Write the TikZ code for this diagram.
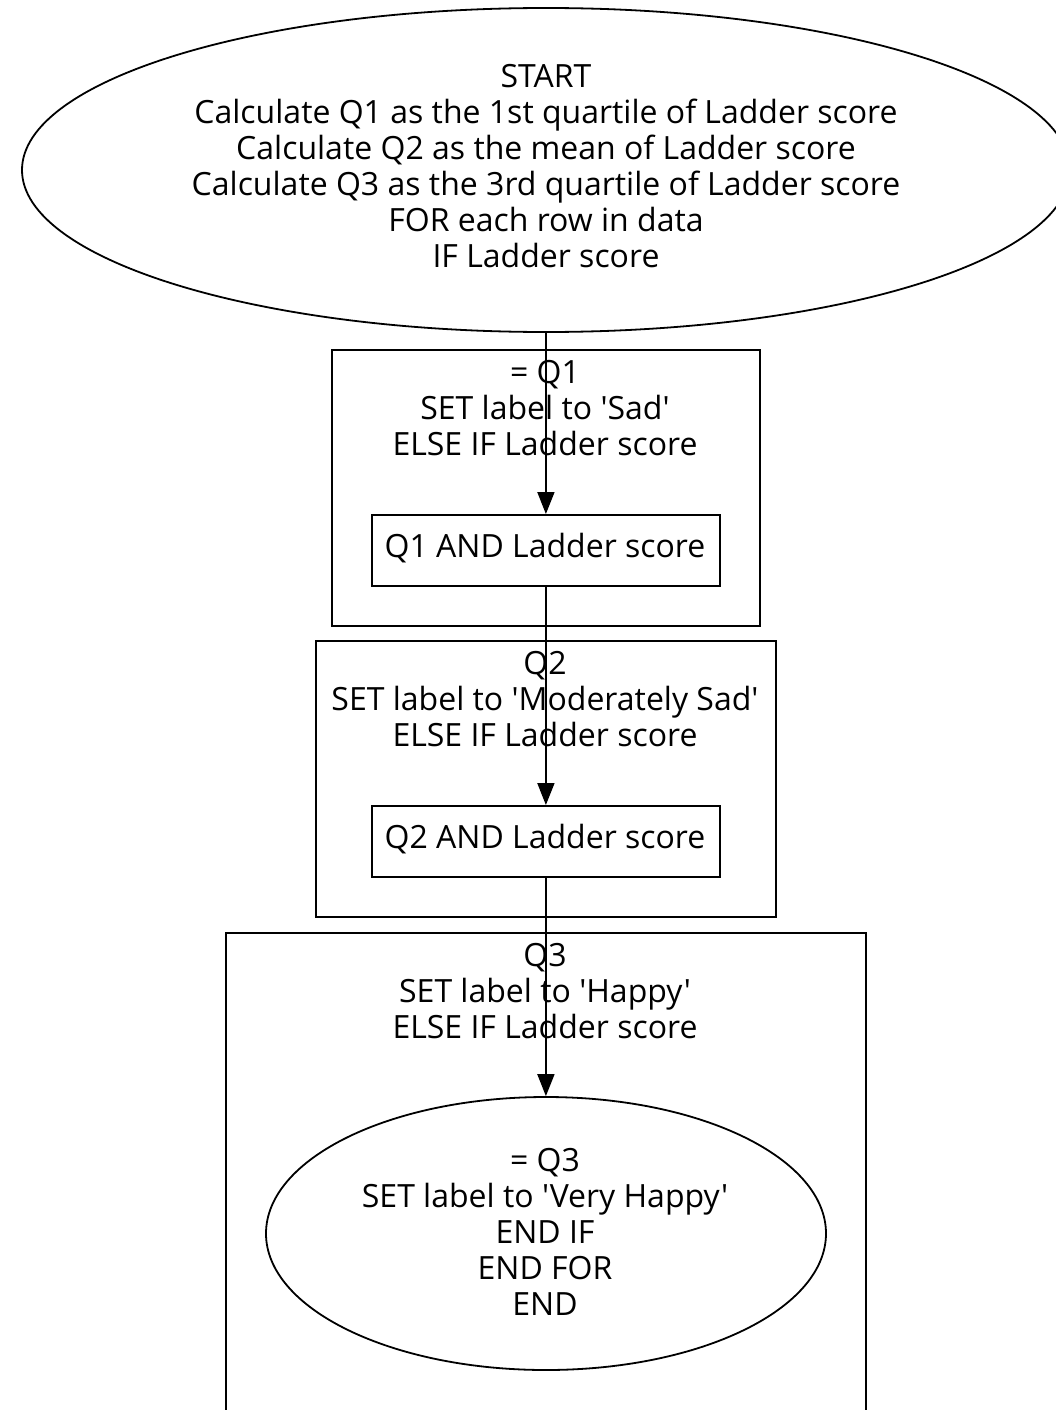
\documentclass[tikz,border=0pt]{standalone}
\usepackage{fontspec}
\setmainfont{Open Sans}[Ligatures=TeXOff]
\usetikzlibrary{shapes.geometric,arrows.meta}
\begin{document}
\begin{tikzpicture}[x=1pt,y=-1pt,
  every node/.style={font=\fontsize{32}{36}\selectfont, line width=1.8pt},
  frame/.style={draw, rectangle, inner sep=0pt, anchor=north west},
  oval/.style={draw, ellipse, inner sep=0pt},
  txt/.style={align=center, inner sep=0pt},
  link/.style={line width=1.8pt, -{Triangle[length=22pt,width=17pt]}}
]
\clip (0,0) rectangle (1056,1410);
\fill[white] (0,0) rectangle (1056,1410);

% start ellipse and its text
\node[oval, minimum width=1048, minimum height=324] (start) at (546,170) {};
\node[txt] (startt) at (546,166)
  {START\\Calculate Q1 as the 1st quartile of Ladder score\\Calculate Q2 as the mean of Ladder score\\Calculate Q3 as the 3rd quartile of Ladder score\\FOR each row in data\\IF Ladder score};

% first branch
\node[frame, minimum width=428, minimum height=276] (b1) at (331,349) {};
\node[txt] (t1) at (545,408) {= Q1\\SET label to 'Sad'\\ELSE IF Ladder score};
\node[frame, minimum width=348, minimum height=71] (c1) at (371,514) {};
\node[txt] (c1t) at (545,548) {Q1 AND Ladder score};

% second branch
\node[frame, minimum width=460, minimum height=276] (b2) at (315,640) {};
\node[txt] (t2) at (545,699) {Q2\\SET label to 'Moderately Sad'\\ELSE IF Ladder score};
\node[frame, minimum width=348, minimum height=71] (c2) at (371,805) {};
\node[txt] (c2t) at (545,839) {Q2 AND Ladder score};

% third branch
\node[frame, minimum width=640, minimum height=520] (b3) at (225,932) {};
\node[txt] (t3) at (545,991) {Q3\\SET label to 'Happy'\\ELSE IF Ladder score};

% end ellipse and its text
\node[oval, minimum width=560, minimum height=273] (fin) at (546,1233.5) {};
\node[txt] (fint) at (545,1232)
  {= Q3\\SET label to 'Very Happy'\\END IF\\END FOR\\END};

% connectors
\draw[link] (start.south -| c1.north) -- (c1.north);
\draw[link] (c1.south) -- (c2.north);
\draw[link] (c2.south) -- (fin.north -| c2.south);
\end{tikzpicture}
\end{document}
